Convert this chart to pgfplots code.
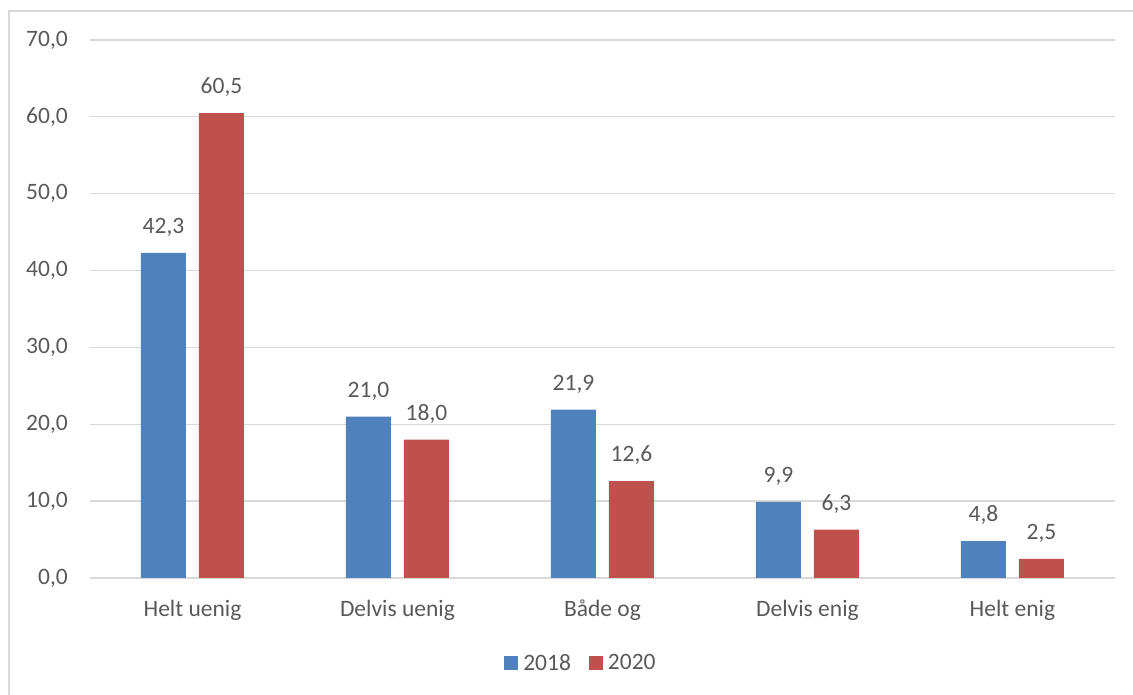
\documentclass[border=0pt]{standalone}
\usepackage{fontspec}
\setmainfont{Carlito}
\usepackage{pgfplots}
\pgfplotsset{compat=1.18}
\definecolor{txt}{HTML}{595959}
\definecolor{gridc}{HTML}{D9D9D9}
\definecolor{blue18}{HTML}{4F81BD}
\definecolor{red20}{HTML}{C0504D}
\newcommand{\lab}{\fontsize{23.5}{28}\selectfont\color{txt}}

\begin{document}
\begin{tikzpicture}
\useasboundingbox (0pt,0pt) rectangle (1133pt,695pt);
\draw[gridc, line width=1.3pt] (9pt,-5pt) -- (9pt,684pt) -- (1140pt,684pt);
\begin{axis}[
  at={(90pt,117pt)}, anchor=south west,
  width=1025pt, height=538pt, scale only axis,
  ybar=13pt, bar width=45pt,
  xmin=-0.5, xmax=4.5, ymin=0, ymax=70,
  xtick={0,1,2,3,4},
  xticklabels={Helt uenig, Delvis uenig, Både og, Delvis enig, Helt enig},
  ytick={0,10,...,70},
  ymajorgrids, grid style={gridc, line width=1.3pt},
  axis line style={draw=none}, major tick length=0pt,
  clip=false,
  /pgf/number format/use comma,
  /pgf/number format/fixed,
  /pgf/number format/fixed zerofill,
  /pgf/number format/precision=1,
  /pgf/number format/assume math mode=true,
  ticklabel style={font=\lab},
  yticklabel style={anchor=east, inner sep=0pt, xshift=-22pt},
  xticklabel style={anchor=base, inner sep=0pt, yshift=-39pt},
  nodes near coords,
  every node near coord/.append style={font=\lab, inner sep=0pt, yshift=16pt},
  legend style={at={(0.479,-0.158)}, anchor=center, draw=none, fill=none,
    legend columns=2, font=\lab,
    /tikz/every odd column/.style={column sep=3pt},
    /tikz/every even column/.style={column sep=16pt}},
  legend image code/.code={\fill[#1] (0pt,-7pt) rectangle (14pt,7pt);},
]
\addplot[fill=blue18, draw=none]
  coordinates {(0,42.3) (1,21.0) (2,21.9) (3,9.9) (4,4.8)};
\addlegendentry{2018}
\addplot[fill=red20, draw=none]
  coordinates {(0,60.5) (1,18.0) (2,12.6) (3,6.3) (4,2.5)};
\addlegendentry{2020}
\end{axis}
\end{tikzpicture}
\end{document}
